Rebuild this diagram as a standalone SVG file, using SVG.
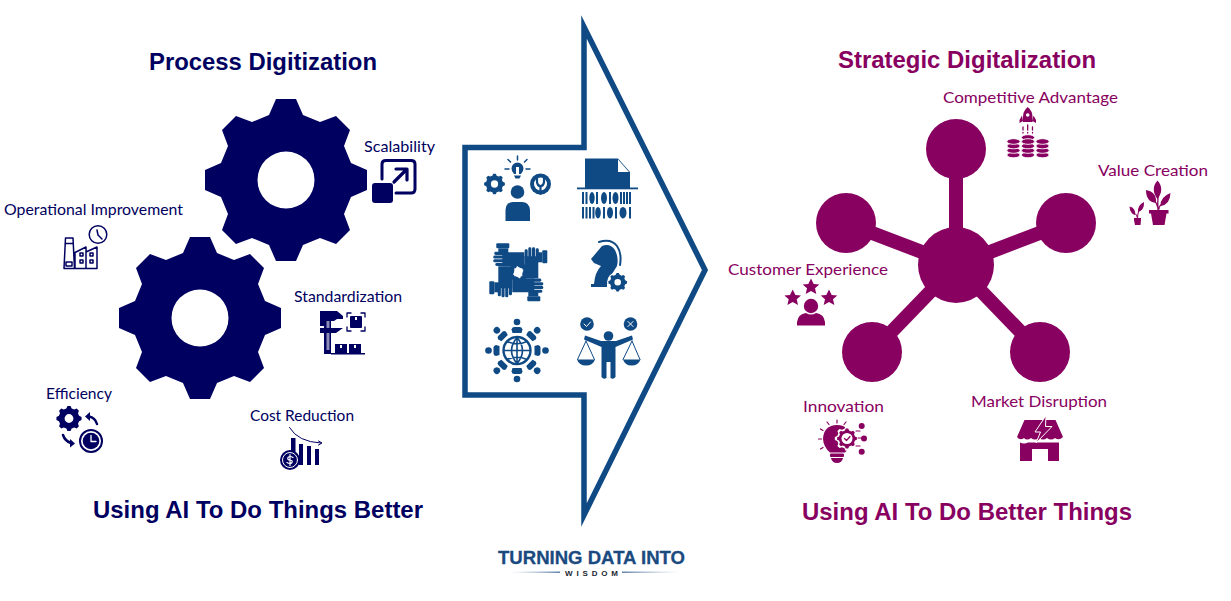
<svg xmlns="http://www.w3.org/2000/svg" width="1231" height="601" viewBox="0 0 1231 601">
<style>
.title{font-family:"Liberation Sans",Arial,sans-serif;font-weight:700;font-size:24px}
.lab{font-family:Lato,"Open Sans",sans-serif;font-size:16px}
.navy{fill:#000060}
.plum{fill:#880060}
.blue{fill:#0F4A85}
.ln{fill:none;stroke-linecap:round;stroke-linejoin:round}
.navyl{stroke:#000060}
.pluml{stroke:#880060}
.bluel{stroke:#0F4A85}
.gap{stroke:#fff}
</style>
<defs>
<path id="gear" fill-rule="evenodd" d="M-10,-81L10,-81L17,-65L34,-58L50,-64L64,-50L58,-34L65,-17L81,-10L81,10L65,17L58,34L64,50L50,64L34,58L17,65L10,81L-10,81L-17,65L-34,58L-50,64L-64,50L-58,34L-65,17L-81,10L-81,-10L-65,-17L-58,-34L-64,-50L-50,-64L-34,-58L-17,-65ZM-28.5,0a28.5,28.5 0 1,0 57,0a28.5,28.5 0 1,0 -57,0Z"/>
<polygon id="star" points="0,-8.500 2.700,-3 8.300,-2.600 4,1.200 5.300,7 0,4 -5.300,7 -4,1.200 -8.300,-2.600 -2.700,-3"/>
<g id="coins" stroke="#fff" stroke-width="0.9">
<ellipse cx="0" cy="13.500" rx="6.600" ry="2.800"/><ellipse cx="0" cy="9" rx="6.600" ry="2.800"/><ellipse cx="0" cy="4.500" rx="6.600" ry="2.800"/><ellipse cx="0" cy="0" rx="6.600" ry="2.800"/>
</g>
<g id="hand">
<rect x="-22" y="-29" width="13" height="5" rx="1"/>
<rect x="-20" y="-24" width="10" height="6"/>
<path d="M-16,-20H6V-4H-5L-8,-6H-16Z"/>
<rect x="-24" y="-20.500" width="10" height="3.100" rx="1.400"/>
<rect x="-25" y="-16.800" width="11" height="3.100" rx="1.400"/>
<rect x="-25" y="-13.100" width="11" height="3.100" rx="1.400"/>
<rect x="-23" y="-9.400" width="9" height="3.100" rx="1.400"/>
</g>
<g id="person8">
<circle cx="0" cy="-28.500" r="3.300"/>
<path d="M-4.500,-17.500L-5.500,-21Q-5,-23.500 -3,-23.500H3Q5,-23.500 5.500,-21L4.500,-17.500Z"/>
</g>
<linearGradient id="fadeL" x1="0" x2="1" y1="0" y2="0"><stop offset="0" stop-color="#a9bdd4" stop-opacity="0"/><stop offset="1" stop-color="#5f81a8"/></linearGradient>
<linearGradient id="fadeR" x1="0" x2="1" y1="0" y2="0"><stop offset="0" stop-color="#5f81a8"/><stop offset="1" stop-color="#a9bdd4" stop-opacity="0"/></linearGradient>
</defs>

<rect width="1231" height="601" fill="#fff"/>

<g id="heading-left">
<text class="title navy" x="149" y="70" textLength="228" lengthAdjust="spacingAndGlyphs">Process Digitization</text>
<text class="title navy" x="93" y="518" textLength="330" lengthAdjust="spacingAndGlyphs">Using AI To Do Things Better</text>
</g>
<g id="heading-right">
<text class="title plum" x="838" y="68" textLength="258" lengthAdjust="spacingAndGlyphs">Strategic Digitalization</text>
<text class="title plum" x="802" y="520" textLength="330" lengthAdjust="spacingAndGlyphs">Using AI To Do Better Things</text>
</g>

<g id="gear-top"><use href="#gear" x="286" y="180" class="navy"/></g>
<g id="gear-bottom"><use href="#gear" x="200" y="318" class="navy"/></g>

<g id="scalability">
<text class="lab navy" x="364" y="152" textLength="71" lengthAdjust="spacingAndGlyphs">Scalability</text>
<path class="ln navyl" stroke-width="3" d="M382,179V164Q382,160.500 386,160.500H411Q415,160.500 415,164V189Q415,193 411,193H396"/>
<rect class="navy" x="372" y="183" width="21" height="20" rx="3"/>
<path class="ln navyl" stroke-width="3.200" d="M394,182L406,170M396,169H407V180"/>
</g>

<g id="operational-improvement">
<text class="lab navy" x="4" y="215" textLength="179" lengthAdjust="spacingAndGlyphs">Operational Improvement</text>
<g class="ln navyl" stroke-width="1.500">
<path d="M64,268.500L65.500,238H73L74.500,268.500ZM75,252.500L86,247V252L97,247V268.500H75ZM86,252V268.500"/>
<path d="M65.500,243.500H73M66,262H72V266H66Z"/>
<circle cx="98" cy="234.500" r="8.800" fill="#fff"/>
<path d="M97,230L98,235L102,239"/>
<path d="M80,253h3v3h-3zM90,253h3v3h-3zM90,260h3v3h-3zM80,260h3v3h-3z"/>
</g>
</g>

<g id="standardization">
<text class="lab navy" x="294" y="302" textLength="108" lengthAdjust="spacingAndGlyphs">Standardization</text>
<rect class="navy" x="324" y="311" width="7" height="43"/>
<rect x="326.500" y="320" width="3" height="30" fill="#fff" opacity=".55"/>
<path class="navy" d="M320,311H337L343,316V319H337L334,321H324V326H320Z"/>
<path class="navy" d="M320,328H343L336,333H320Z"/>
<path class="ln navyl" stroke-width="1.300" d="M347,317V313H351M361,313H365V317M347,327V331H351M361,331H365V327"/>
<rect class="navy" x="350" y="316" width="12" height="12" rx="1"/>
<rect x="355" y="317" width="2" height="3" fill="#fff"/>
<rect class="navy" x="335" y="344" width="12" height="9"/><rect class="navy" x="349" y="344" width="12" height="9"/>
<rect x="340" y="345" width="2" height="3" fill="#fff"/><rect x="354" y="345" width="2" height="3" fill="#fff"/>
<rect class="navy" x="331" y="353" width="34" height="1.500"/>
</g>

<g id="efficiency">
<text class="lab navy" x="46" y="399" textLength="66" lengthAdjust="spacingAndGlyphs">Efficiency</text>
<use href="#gear" transform="translate(69,418.500) scale(.155)" class="navy"/>
<circle class="ln navyl" cx="91" cy="441" r="11" stroke-width="2"/>
<circle class="navy" cx="91" cy="441" r="8.300"/>
<path class="ln gap" stroke-width="1.300" d="M91,435.500V441.500H96"/>
<path class="ln navyl" stroke-width="2.500" d="M97,424Q95,417.500 89,416.500"/>
<path class="navy" d="M90,412L85,416.500L90,421Z"/>
<path class="ln navyl" stroke-width="2.500" d="M63,435Q65,441 71,443"/>
<path class="navy" d="M70,439L75,443.500L70,447.500Z"/>
</g>

<g id="cost-reduction">
<text class="lab navy" x="250" y="421" textLength="104" lengthAdjust="spacingAndGlyphs">Cost Reduction</text>
<path class="ln navyl" stroke-width="1" d="M289.500,427.500Q298,442 321,443M318.500,441L322,443L318.500,445"/>
<rect class="navy" x="291" y="438" width="4.500" height="14"/>
<rect class="navy" x="299" y="444" width="4" height="21"/>
<rect class="navy" x="307" y="446" width="4" height="19"/>
<rect class="navy" x="315" y="449" width="4" height="16"/>
<circle class="navy" cx="290" cy="460" r="10"/>
<circle class="ln gap" cx="290" cy="460" r="7.500" stroke-width="1"/>
<path class="ln gap" stroke-width="1.200" d="M293,457.500Q290,455.500 288,457.500Q287,460 290,460Q293,460.500 292,462.500Q290,464.500 287,462.500M290,454.500V465.500"/>
</g>

<g id="center-arrow">
<polygon points="465,147.500 584,147.500 584,27 705,270 584,515 584,395 465,395" fill="none" stroke="#0F4A85" stroke-width="5.500" stroke-miterlimit="10"/>
</g>

<g id="icon-skills">
<circle class="blue" cx="517.500" cy="192" r="6.800"/>
<path class="blue" d="M505.500,221V210Q506,202 513,202H522Q529,202 530,210V221Z"/>
<use href="#gear" transform="translate(494.500,184) scale(.128)" class="blue"/>
<circle class="blue" cx="540.500" cy="184" r="10.500"/>
<circle cx="540.500" cy="184" r="6.500" fill="#fff"/>
<path class="ln bluel" stroke-width="2.200" d="M537,178V182Q537.500,186 540.500,186Q543.500,186 544,182V178M540.500,186V194"/>
<path class="blue" d="M511.500,168.500a6,6 0 1,1 12,0q0,3 -2.500,5.500H514Q511.500,171.500 511.500,168.500ZM514,175.500H521L519.500,178.500H515.500Z"/>
<path class="ln bluel" stroke-width="1.500" d="M517.500,156V160M508,159.500L510.500,162M527,159.500L524.500,162M505,169H509M526,169H530"/>
<rect x="516" y="167" width="3" height="7" fill="#fff"/>
</g>

<g id="icon-document">
<path class="blue" d="M585,158.500H618L630,172V188H585Z"/>
<path d="M618,159.500L629,172H618Z" fill="#fff"/>
<rect class="blue" x="577" y="187.500" width="61" height="1.800"/>
<g class="blue">
<rect x="582" y="192" width="2" height="12"/><rect x="585.500" y="192" width="2" height="12"/><ellipse cx="592" cy="198" rx="2.700" ry="6"/><rect x="596" y="192" width="2" height="12"/><ellipse cx="604" cy="198" rx="3" ry="6"/><rect x="609" y="192" width="2" height="12"/><ellipse cx="615.500" cy="198" rx="3" ry="6"/><rect x="620" y="192" width="2" height="12"/><rect x="623" y="192" width="2" height="12"/><rect x="626" y="192" width="2" height="12"/><rect x="629" y="192" width="2" height="12"/>
<rect x="582" y="207" width="2" height="11.500"/><rect x="585.500" y="207" width="2" height="11.500"/><rect x="589" y="207" width="2" height="11.500"/><rect x="592.500" y="207" width="2" height="11.500"/><ellipse cx="598" cy="212.700" rx="2.800" ry="5.800"/><rect x="603" y="207" width="2" height="11.500"/><ellipse cx="610" cy="212.700" rx="3" ry="5.800"/><rect x="615" y="207" width="2" height="11.500"/><ellipse cx="623" cy="212.700" rx="3.500" ry="5.800"/><rect x="629" y="207" width="2" height="11.500"/>
</g>
</g>

<g id="icon-teamwork" class="blue">
<use href="#hand" transform="translate(518.300,272.300)"/>
<use href="#hand" transform="translate(518.300,272.300) rotate(90)"/>
<use href="#hand" transform="translate(518.300,272.300) rotate(180)"/>
<use href="#hand" transform="translate(518.300,272.300) rotate(270)"/>
<polygon points="517,266 523.500,270 520,278.500 513,274.500" fill="#fff"/>
</g>

<g id="icon-strategy">
<path class="blue" d="M591,259L602,246Q610,243 615,250Q619,258 617,266L612,274L608,284H594Q595,272 601,266L594,263Z"/>
<path class="ln bluel" stroke-width="2" d="M599,242Q611,238 617,246Q622,253 620,265"/>
<rect class="blue" x="591" y="284" width="16" height="3"/>
<circle cx="617.500" cy="282.500" r="10.500" fill="#fff"/>
<use href="#gear" transform="translate(617.700,282.300) scale(.115)" class="blue"/>
</g>

<g id="icon-global-people">
<circle class="ln bluel" cx="517" cy="350.500" r="13.500" stroke-width="2.400"/>
<path class="ln bluel" stroke-width="1.600" d="M517,337.500V363.500M504,350.500H530M507,341.500Q517,346 527,341.500M507,359.500Q517,355 527,359.500M517,337.500Q506,350.500 517,363.500M517,337.500Q528,350.500 517,363.500"/>
<g class="blue">
<use href="#person8" transform="translate(517,350.500)"/>
<use href="#person8" transform="translate(517,350.500) rotate(45)"/>
<use href="#person8" transform="translate(517,350.500) rotate(90)"/>
<use href="#person8" transform="translate(517,350.500) rotate(135)"/>
<use href="#person8" transform="translate(517,350.500) rotate(180)"/>
<use href="#person8" transform="translate(517,350.500) rotate(225)"/>
<use href="#person8" transform="translate(517,350.500) rotate(270)"/>
<use href="#person8" transform="translate(517,350.500) rotate(315)"/>
</g>
</g>

<g id="icon-balance">
<circle class="blue" cx="587" cy="324" r="6.800"/>
<circle class="blue" cx="630.500" cy="324" r="6.800"/>
<path class="ln gap" stroke-width="1" d="M584,324L586.500,326.500L590.500,322M628,321.500L633,326.500M633,321.500L628,326.500"/>
<circle class="blue" cx="608.500" cy="336" r="4.800"/>
<path class="blue" d="M585,335.500L601,341H616L632,335.500L633,339.500L615.500,347V377Q613.500,380 610.500,378V362H606.500V378Q603.500,380 601.500,377V347L584,339.500Z"/>
<rect x="607.500" y="362" width="2" height="16" fill="#fff"/>
<path class="ln bluel" stroke-width="1" d="M586,341L577.500,359.500M586,341L594.500,359.500M632,341L623,359.500M632,341L640,359.500"/>
<path class="blue" d="M577,359.500H595Q593,365.500 586,365.500Q579,365.500 577,359.500ZM623,359.500H640.500Q638.500,365.500 631.500,365.500Q625,365.500 623,359.500Z"/>
</g>

<g id="connectors" fill="none" stroke="#880060" stroke-width="14">
<line x1="956" y1="265" x2="956" y2="149"/>
<line x1="956" y1="265" x2="846" y2="223"/>
<line x1="956" y1="265" x2="1066" y2="223"/>
<line x1="956" y1="265" x2="872" y2="352"/>
<line x1="956" y1="265" x2="1040" y2="352"/>
</g>

<g id="hub"><circle class="plum" cx="956" cy="265" r="38"/></g>
<g id="node-top"><circle class="plum" cx="956" cy="149" r="30"/></g>
<g id="node-left"><circle class="plum" cx="846" cy="223" r="30"/></g>
<g id="node-right"><circle class="plum" cx="1066" cy="223" r="30"/></g>
<g id="node-bottom-left"><circle class="plum" cx="872" cy="352" r="30"/></g>
<g id="node-bottom-right"><circle class="plum" cx="1040" cy="352" r="30"/></g>

<g id="competitive-advantage">
<text class="lab plum" x="943" y="103" textLength="175" lengthAdjust="spacingAndGlyphs">Competitive Advantage</text>
<path class="plum" d="M1027.700,107Q1032.500,111 1032.500,117V122H1023V117Q1023,111 1027.700,107ZM1022,115.500L1019.500,120V123L1023,121ZM1033.500,115.500L1036,120V123L1032.500,121Z"/>
<circle cx="1027.700" cy="115" r="1.800" fill="#fff"/>
<path class="ln pluml" stroke-width="1.300" d="M1023,127V130M1023,132.500V133M1027.700,125V130M1027.700,132.500V133M1032.500,127V130M1032.500,132.500V133"/>
<use href="#coins" x="1013.500" y="141.500" class="plum"/>
<use href="#coins" x="1028" y="137.500" class="plum"/>
<use href="#coins" x="1028" y="141.500" class="plum"/>
<use href="#coins" x="1042.500" y="141.500" class="plum"/>
</g>

<g id="value-creation">
<text class="lab plum" x="1098" y="176" textLength="110" lengthAdjust="spacingAndGlyphs">Value Creation</text>
<path class="plum" d="M1149,210H1168.500V213.500H1166.500L1164.500,225H1153L1151,213.500H1149Z"/>
<path class="plum" d="M1157.500,180.500Q1165,189 1157.500,199Q1150,189 1157.500,180.500ZM1146,190Q1157,192 1156,203Q1146,202 1146,190ZM1170.500,193Q1170,205 1160.500,206Q1160,197 1170.500,193Z"/>
<path class="ln pluml" stroke-width="1.300" d="M1158,197Q1157.500,203 1158,210M1155,201Q1157,204 1158,208M1162,204Q1159,206 1159,209"/>
<path class="plum" d="M1134,218H1141V220L1140.500,225H1135L1134,220ZM1129.500,206.500Q1136,208 1135,215Q1130,213.500 1129.500,206.500ZM1144,202Q1144.500,210 1138,212Q1137.500,205 1144,202Z"/>
<path class="ln pluml" stroke-width="1" d="M1134,213Q1137.500,214 1137.500,218M1139,210Q1137.500,214 1137.500,218"/>
</g>

<g id="customer-experience">
<text class="lab plum" x="728" y="275" textLength="160" lengthAdjust="spacingAndGlyphs">Customer Experience</text>
<use href="#star" x="792.700" y="298" class="plum"/>
<use href="#star" x="811" y="287" class="plum"/>
<use href="#star" x="829" y="298" class="plum"/>
<circle class="plum" cx="811" cy="306" r="7.200"/>
<path class="plum" d="M797,325.500V322Q798,314 806,313Q811,316 816,313Q824,314 825,322V325.500Z"/>
</g>

<g id="innovation">
<text class="lab plum" x="803" y="412" textLength="81" lengthAdjust="spacingAndGlyphs">Innovation</text>
<path class="plum" d="M837,425Q823.500,425.500 823,439Q823.500,447 830,452.500H845Q851,447 851,439Q850.500,425.500 837,425Z"/>
<use href="#gear" transform="translate(847,438.500) scale(.15)" fill="#fff"/>
<use href="#gear" transform="translate(847,438.500) scale(.122)" class="plum"/>
<circle cx="847" cy="438.500" r="5.500" fill="#fff"/>
<path class="ln pluml" stroke-width="1.200" d="M844.500,438.500L846.500,440.500L850,436.500"/>
<rect class="plum" x="830" y="453.500" width="14" height="3.500" rx="1"/>
<path class="plum" d="M831,458H843Q842,463 837,463Q832,463 831,458Z"/>
<path class="ln pluml" stroke-width="1.200" d="M837,420V423M827,422L829,424.500M846,422L844,424.500M820.500,429L823,430.500M818.500,439H821.500M820.500,449L823,447.500M856,431H860M858,438H862M856,446H860"/>
<circle class="plum" cx="861.700" cy="426" r="3"/>
<circle class="plum" cx="864" cy="438.500" r="3"/>
<circle class="plum" cx="861.700" cy="451.700" r="3"/>
</g>

<g id="market-disruption">
<text class="lab plum" x="971" y="407" textLength="136" lengthAdjust="spacingAndGlyphs">Market Disruption</text>
<path class="plum" d="M1024.500,420H1055.500L1063,437Q1059,441 1055,438Q1051,441 1047,438Q1043,441 1039,438Q1035,441 1031,438Q1027,441 1024,438Q1020,441 1017,437Z"/>
<path class="plum" d="M1020,442.500Q1024,444.500 1028,442.500H1059V461H1048V449H1032V461H1020Z"/>
<path class="plum" stroke="#fff" stroke-width="1" d="M1046,415.500L1035,432H1040.500L1036,443L1052,426.500H1045.500Z"/>
</g>

<g id="logo">
<text x="498" y="564" textLength="187" lengthAdjust="spacingAndGlyphs" font-family="Liberation Sans, Arial, sans-serif" font-weight="700" font-size="19" fill="#1A4A80" stroke="#1A4A80" stroke-width=".3">TURNING DATA INTO</text>
<text x="565" y="575.500" textLength="53" font-family="Liberation Sans, Arial, sans-serif" font-weight="700" font-size="8" fill="#1c2733">WISDOM</text>
<rect x="510" y="571.500" width="50" height="1.500" fill="url(#fadeL)"/>
<rect x="622" y="571.500" width="58" height="1.500" fill="url(#fadeR)"/>
</g>
</svg>
